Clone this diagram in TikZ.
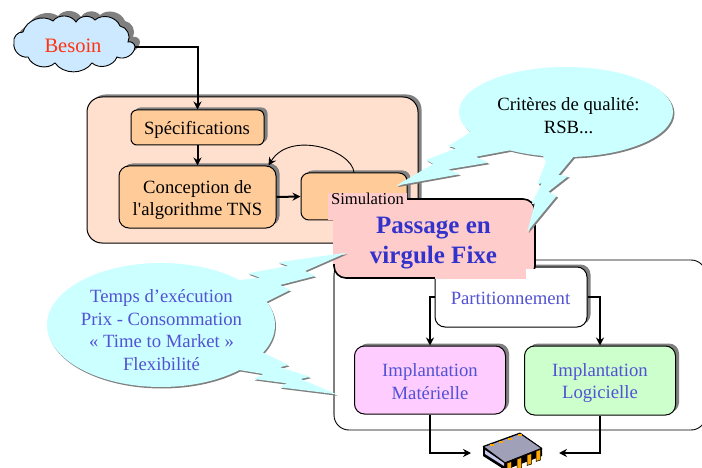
\documentclass[tikz,border=0pt]{standalone}
\usepackage{fontspec}
\setmainfont{Liberation Serif}
\usetikzlibrary{shadows,arrows.meta}
\definecolor{peach}{HTML}{FFE0CF}
\definecolor{orangebox}{HTML}{FFCC99}
\definecolor{pinkbox}{HTML}{FFCCCC}
\definecolor{magbox}{HTML}{FFCCFF}
\definecolor{greenbox}{HTML}{CCFFCC}
\definecolor{cyancall}{HTML}{CCFFFF}
\definecolor{cloudblue}{HTML}{CCE9FF}
\definecolor{bluetext}{HTML}{3333CC}
\definecolor{redtext}{HTML}{FF3311}
\definecolor{shad}{HTML}{808080}
\definecolor{chiptop}{HTML}{A0A0B8}
\definecolor{chipside}{HTML}{C8C8EC}
\definecolor{chippin}{HTML}{FFAA00}
\tikzset{
  x=1pt,y=-1pt,
  txt/.style={font=\fontsize{18.7}{22.7}\selectfont,align=center,inner sep=0pt},
  box/.style={draw=black,line width=1pt,rounded corners=#1,inner sep=0pt,
    general shadow={shadow xshift=3.5pt,shadow yshift=2.5pt,fill=shad}},
  box/.default=10pt,
  conn/.style={line width=2pt,-{Stealth[length=8pt,width=8pt]}},
}
\newcommand\topcall[1]{%
  \fill[#1] (566,112) ellipse [x radius=107,y radius=45];
  \fill[#1] (471,131.7)--(448.3,146)--(456,148.3)--(426,160)--(433.3,164)--(396,185.7)--(459.3,174.3)--(448.3,169.3)--(488.3,162.7)--(476,156.7)--(511.7,150)--(540,150)--cycle;
  \fill[#1] (575,155)--(558.3,175)--(568.3,176)--(548.3,191.7)--(556.7,196)--(527.3,231.7)--(535,203.3)--(531.7,204)--(541.7,183.3)--(537.3,184)--(546,161.7)--(540,150)--cycle;
}
\newcommand\leftcall[1]{%
  \fill[#1] (161,325) ellipse [x radius=114,y radius=62];
  \fill[#1] (240,280)--(260,277.7)--(248,273.3)--(288.3,266)--(278.3,262.3)--(346.7,252.7)--(305,271)--(315,276)--(280,285)--(290,290)--(266.7,301.7)--(230,310)--cycle;
  \fill[#1] (263.3,352.7)--(288.3,365)--(280,367.3)--(310,376.7)--(300.7,379)--(336.7,394.3)--(280,387.3)--(286.7,383.3)--(254,379)--(263.3,374)--(239.3,370)--(230,340)--cycle;
}
\newcommand\cloudshape{%
  (23,32) to[bend left=55] (53,21) to[bend left=55] (76,22) to[bend left=55] (95,20)
  to[bend left=55] (120,26) to[bend left=55] (128,42) to[bend left=55] (135,47)
  to[bend left=55] (117,57) to[bend left=55] (92,63) to[bend left=55] (55,63)
  to[bend left=55] (28,57) to[bend left=55] (14,43) to[bend left=55] (23,32) -- cycle
}
\begin{document}
\begin{tikzpicture}
\useasboundingbox (0,0) rectangle (702,468);
\clip (0,0) rectangle (702,468);
\fill[white] (0,0) rectangle (702,468);
% cloud
\fill[shad,shift={(5,-5)}] \cloudshape;
\draw[fill=cloudblue,line width=0.9pt] \cloudshape;
\node[txt,text=redtext,font=\fontsize{20.5}{24}\selectfont] (besoin) at (73,46) {Besoin};
\coordinate (besoinE) at (135,47);
% peach frame
\node[box=15pt,fill=peach,minimum width=331pt,minimum height=146pt] (frame) at (252.5,170) {};
\node[box=6pt,fill=orangebox,minimum width=133pt,minimum height=35pt] (spec) at (197.5,127.5) {};
\node[txt] (speclabel) at (197,130) {Spécifications};
\node[box=10pt,fill=orangebox,minimum width=157pt,minimum height=62pt] (conc) at (197.5,197) {};
\node[txt] (conclabel) at (197.5,200) {Conception de\\l\textquotesingle algorithme TNS};
\node[box=8pt,fill=orangebox,minimum width=106pt,minimum height=47pt] (sim) at (354,196.5) {};
\draw[conn] (besoinE) -| (spec.north);
\draw[conn] (spec.south) -- (conc.north);
\draw[conn] (conc.east) -- (sim.west);
\draw[line width=0.9pt,-{Stealth[length=8pt,width=8pt]}] (sim.north) .. controls (352,150) and (290,130) .. ([xshift=-8pt]conc.north east);
% big white frame
\draw[line width=0.9pt,fill=white,rounded corners=15pt] (334,260) rectangle (706,430);
\draw[shad,line width=1.4pt] (334,275) -- (334,415);
\node[box=10pt,fill=white,minimum width=152pt,minimum height=60pt] (part) at (511,297) {};
\node[box=10pt,fill=magbox,minimum width=151pt,minimum height=68pt] (mat) at (430,380) {};
\node[box=10pt,fill=greenbox,minimum width=151pt,minimum height=69pt] (log) at (600,380.5) {};
\node[txt,text=bluetext!85!white] (partlabel) at (510.5,298) {Partitionnement};
\node[txt,text=bluetext!85!white] (matlabel) at (430,381.5) {Implantation\\Matérielle};
\node[txt,text=bluetext!85!white] (loglabel) at (600,383) {Implantation\\Logicielle};
% passage
\node[draw=black,line width=1.6pt,fill=pinkbox,rounded corners=12pt,minimum width=201pt,minimum height=79pt] (pass) at (434.5,238.5) {};
\fill[white] (525.5,269) rectangle (538,281);
\fill[pinkbox] (435,272) rectangle (525.5,278.5);
\fill[pinkbox] (328,193) rectangle (407,220);
\fill[pinkbox] (332.5,219) rectangle (336,264);
\node[txt,font=\fontsize{16.6}{20}\selectfont] (simlabel) at (367.5,199) {Simulation};
\node[txt,text=bluetext,font=\fontsize{25}{30}\selectfont\bfseries] (passlabel) at (433.5,243) {Passage en\\virgule Fixe};
% connectors lower part
\coordinate (chipL) at (471,453);
\coordinate (chipR) at (559,453);
\draw[conn] (part.west) -| (mat.north);
\draw[conn] (part.east) -| (log.north);
\draw[conn] (mat.south) |- (chipL);
\draw[conn] (log.south) |- (chipR);
% chip
\fill[black] (483,446) -- (520,432.5) -- (542,448) -- (542,456) -- (505,470) -- (483,456) -- cycle;
\fill[chipside] (485,450) -- (504,463) -- (504,466) -- (485,454) -- cycle;
\draw[black,line width=0.8pt,fill=chiptop] (483.5,446.7) -- (520,433.5) -- (541.5,448.3) -- (505,462.7) -- cycle;
\foreach \xa/\ya in {507/463,517/459,527/455,536/451}{
  \draw[line width=0.5pt,fill=chippin] (\xa,\ya) -- (\xa+4.5,\ya-1.5) -- (\xa+4.5,\ya+9) -- (\xa,\ya+10.5) -- cycle;}
\foreach \xa/\ya in {490/444,499/441,508/437.5,518/433.5}{
  \fill[chippin] (\xa,\ya) rectangle ++(3.5,2);}
% callouts
\topcall{shift={(1.5,1.5)},shad}
\topcall{cyancall}
\node[txt] (crit) at (568.5,115.5) {Critères de qualité:\\RSB...};
\leftcall{shift={(1,1.5)},shad}
\leftcall{cyancall}
\node[txt,text=bluetext!85!white] (temps) at (161.5,330) {Temps d’exécution\\Prix - Consommation\\« Time to Market »\\Flexibilité};
\end{tikzpicture}
\end{document}
